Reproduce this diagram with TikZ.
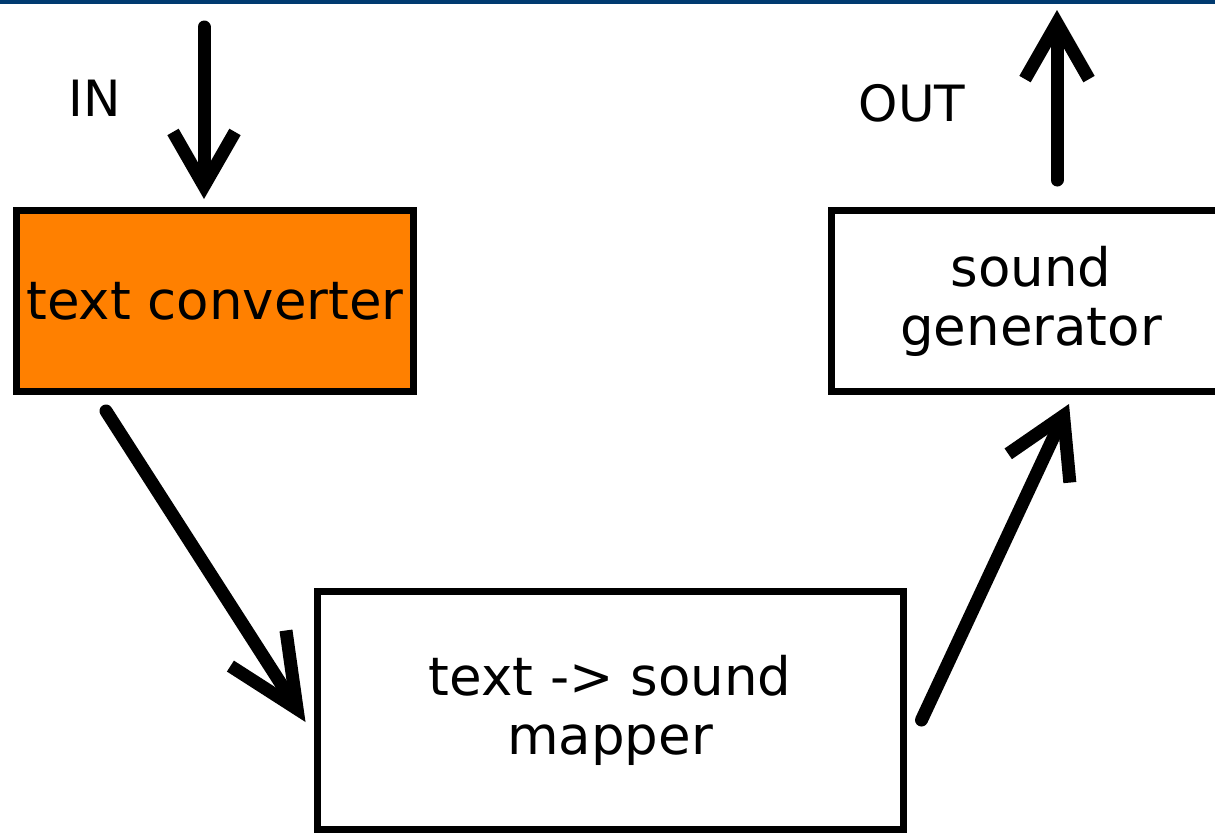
\documentclass[tikz,border=0pt]{standalone}
\usepackage{fontspec}
\setmainfont{DejaVu Sans}
\usetikzlibrary{arrows.meta,calc}
\definecolor{topbar}{HTML}{003A70}
\definecolor{boxorange}{HTML}{FF8000}
\begin{document}
\begin{tikzpicture}[x=1pt,y=-1pt,
  box/.style={draw=black,line width=7pt,inner sep=0pt,align=center,
    font=\fontsize{53}{59}\selectfont},
  lbl/.style={inner sep=0pt,font=\fontsize{50}{58}\selectfont},
  arr/.style={line width=13pt,line cap=round,line join=round}]
\clip (0,0) rectangle (1215,833);
\fill[white] (0,0) rectangle (1215,833);
\fill[topbar] (0,0) rectangle (1215,4);
\node[box,fill=boxorange,minimum width=397pt,minimum height=181pt] (conv) at (215,301) {\raisebox{-4pt}{text converter}};
\node[box,fill=white,minimum width=410pt,minimum height=181pt] (gen) at (1036,301) {\hspace*{-10pt}sound\\\hspace*{-10pt}generator};
\node[box,fill=white,minimum width=586pt,minimum height=238pt] (map) at (610,710) {\raisebox{-5pt}{text -> sound}\\\raisebox{-5pt}{mapper}};
\node[lbl] (in) at (95,98) {IN};
\node[lbl] (out) at (912,103) {OUT};
\coordinate (inStart) at (204,27);
\coordinate (outEnd) at (1057,10);
\draw[arr,-{Straight Barb[length=54pt,width=62pt]}] (inStart) -- ($(conv.north -| inStart)+(0,-8)$);
\draw[arr,-{Straight Barb[length=56pt,width=64pt]}] ($(gen.north -| outEnd)+(0,-27)$) -- (outEnd);
\draw[arr,-{Straight Barb[length=72pt,width=66pt]}] ($(conv.south west)+(93,16)$) -- ($(map.west)+(-8,12)$);
\draw[arr,-{Straight Barb[length=58pt,width=68pt]}] ($(map.east)+(15,10)$) -- ($(gen.south)+(33,9)$);
\end{tikzpicture}
\end{document}
